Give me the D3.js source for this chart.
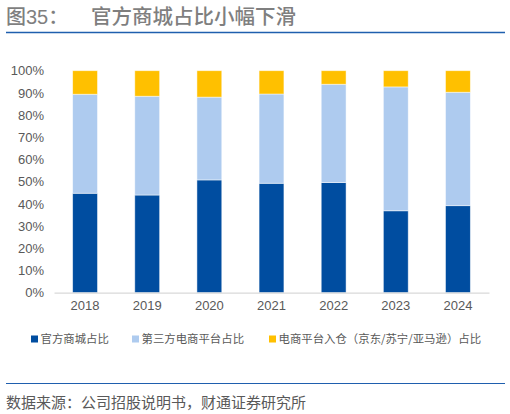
<!DOCTYPE html>
<html>
<head>
<meta charset="utf-8">
<script src="https://cdn.jsdelivr.net/npm/d3@7"></script>
<style>
  body { margin: 0; background: #fff; }
  svg { display: block; font-family: "Liberation Sans", Arial, "Noto Sans CJK SC", sans-serif; }
</style>
</head>
<body>
<svg id="chart" width="510" height="414"></svg>
<script>
// data (percent of total)
var years = ["2018", "2019", "2020", "2021", "2022", "2023", "2024"];
var official = [44.8, 44.0, 50.8, 49.3, 49.6, 36.9, 39.2];
var thirdParty = [44.6, 44.5, 37.3, 40.2, 44.3, 55.8, 51.1];
var warehouse = [10.6, 11.5, 11.9, 10.5, 6.1, 7.3, 9.7];
var seriesNames = ["官方商城占比", "第三方电商平台占比", "电商平台入仓（京东/苏宁/亚马逊）占比"];
var yTicks = [0, 10, 20, 30, 40, 50, 60, 70, 80, 90, 100];

var colors = ["#004DA0", "#AECBEF", "#FFC000"];
var cjk = '"Noto Sans CJK SC", sans-serif';

var svg = d3.select("#chart");

// title + rules
svg.append("text")
    .attr("x", 6).attr("y", 24)
    .attr("font-family", '"Liberation Sans", "Noto Sans CJK SC", sans-serif')
    .attr("font-size", 20).attr("font-weight", 500)
    .attr("fill", "#7f7f7f")
    .text("图35：");
svg.append("text")
    .attr("x", 91).attr("y", 24)
    .attr("font-family", cjk)
    .attr("font-size", 20.5).attr("font-weight", 500)
    .attr("fill", "#7f7f7f")
    .text("官方商城占比小幅下滑");
svg.append("line")
    .attr("x1", 6).attr("x2", 505).attr("y1", 32.5).attr("y2", 32.5)
    .attr("stroke", "#1f5fae").attr("stroke-width", 1.5);

var rows = years.map(function(y, i) {
    return { year: y, a: official[i], b: thirdParty[i], c: warehouse[i] };
});
var stack = d3.stack().keys(["a", "b", "c"])(rows);

var x = d3.scaleBand().domain(years).range([54, 489]).paddingInner(0.6).paddingOuter(0.3);
var y = d3.scaleLinear().domain([0, 100]).range([292.7, 70.7]);

// y axis labels
var yAxis = svg.append("g")
    .attr("transform", "translate(44,0)")
    .call(d3.axisLeft(y).tickValues(yTicks).tickSize(0).tickPadding(0).tickFormat(function(d) { return d + "%"; }));
yAxis.select(".domain").remove();
yAxis.selectAll("text").attr("font-size", 13).attr("fill", "#595959")
    .attr("font-family", "'Liberation Sans', Arial, sans-serif");

// bars
svg.append("g").selectAll("g")
    .data(stack)
    .enter().append("g")
    .attr("fill", function(d, i) { return colors[i]; })
    .selectAll("rect")
    .data(function(d) { return d; })
    .enter().append("rect")
    .attr("x", function(d) { return x(d.data.year); })
    .attr("y", function(d) { return y(d[1]); })
    .attr("width", x.bandwidth())
    .attr("height", function(d) { return y(d[0]) - y(d[1]); })
    .attr("stroke", "#ffffff").attr("stroke-opacity", 0.6).attr("stroke-width", 0.8);

// x axis
var xAxis = svg.append("g")
    .attr("transform", "translate(0," + y(0) + ")")
    .call(d3.axisBottom(x).tickSize(0).tickPadding(8));
xAxis.select(".domain").attr("stroke", "#d9d9d9").attr("stroke-width", 1.2);
xAxis.selectAll("text").attr("font-size", 13).attr("fill", "#595959")
    .attr("font-family", "'Liberation Sans', Arial, sans-serif");

// legend
var legendX = [31, 132, 269];
var legend = svg.append("g").selectAll("g")
    .data(seriesNames)
    .enter().append("g")
    .attr("transform", function(d, i) { return "translate(" + legendX[i] + ",339)"; });
legend.append("rect")
    .attr("x", 0).attr("y", -3.5).attr("width", 7).attr("height", 7)
    .attr("fill", function(d, i) { return colors[i]; });
legend.append("text")
    .attr("x", 9.5).attr("y", 0).attr("dy", "0.36em")
    .attr("font-family", cjk).attr("font-size", 11.4).attr("fill", "#595959")
    .text(function(d) { return d; });

// source footer
svg.append("line")
    .attr("x1", 6).attr("x2", 505).attr("y1", 383.5).attr("y2", 383.5)
    .attr("stroke", "#1f5fae").attr("stroke-width", 1);
svg.append("text")
    .attr("x", 6).attr("y", 407.5)
    .attr("font-family", cjk).attr("font-size", 15).attr("fill", "#595959")
    .text("数据来源：公司招股说明书，财通证券研究所");
</script>
</body>
</html>
